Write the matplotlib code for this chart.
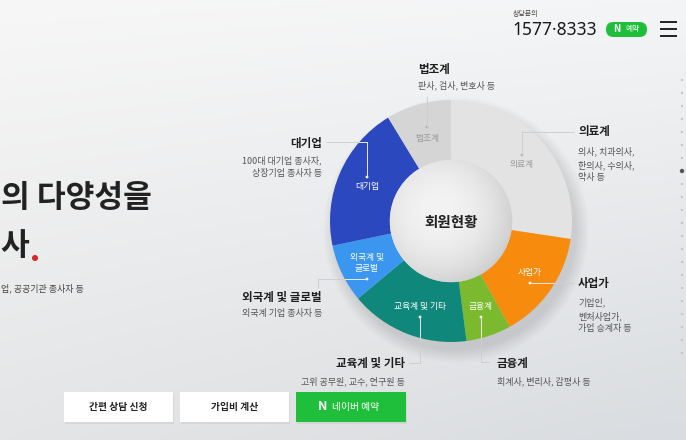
import numpy as np
import matplotlib
matplotlib.use('Agg')
import matplotlib.pyplot as plt
from matplotlib.patches import Circle, FancyBboxPatch
from matplotlib.colors import to_rgb

plt.rcParams['font.family'] = ['Noto Sans CJK KR', 'DejaVu Sans']

# ---------------- data ----------------
categories = ['의료계', '사업가', '금융계', '교육계 및 기타', '외국계 및 글로벌', '대기업', '법조계']
shares = [27.4, 14.6, 6.0, 16.0, 7.8, 19.6, 8.7]
inner_labels = ['의료계', '사업가', '금융계', '교육계 및 기타', '외국계 및\n글로벌', '대기업', '법조계']
descriptions = ['의사, 치과의사,\n한의사, 수의사,\n약사 등',
                '기업인,\n벤처사업가,\n가업 승계자 등',
                '회계사, 변리사, 감평사 등',
                '고위 공무원, 교수, 연구원 등',
                '외국계 기업 종사자 등',
                '100대 대기업 종사자,\n상장기업 종사자 등',
                '판사, 검사, 변호사 등']
center_title = '회원현황'
headline_1 = '의 다양성을'
headline_2 = '사'
headline_sub = '업, 공공기관 종사자 등'
phone_caption = '상담문의'
phone_number = '1577·8333'
button_labels = ['간편 상담 신청', '가입비 계산', '네이버 예약']
n_pages = 22
active_page = 7

# ---------------- styles ----------------
colors = ['#e3e3e3', '#f68b0d', '#7bba2f', '#0f877a', '#3a96ef', '#2b48bf', '#d5d5d5']
inner_text_colors = ['#9a9a9a', 'white', 'white', 'white', 'white', 'white', '#9a9a9a']
GREEN = '#1fbf3c'

W, H = 686, 440
fig = plt.figure(figsize=(6.86, 4.40), dpi=100)

# background gradient
bg = fig.add_axes([0, 0, 1, 1])
xs = np.linspace(0, 1, 200)
ys = np.linspace(0, 1, 130)
X, Y = np.meshgrid(xs, ys)
tl, tr, bl, br = [np.array(to_rgb(c)) for c in ('#f7f7f7', '#f4f5f6', '#e4e5e6', '#d9dce0')]
img = (tl * ((1 - X) * (1 - Y))[..., None] + tr * (X * (1 - Y))[..., None]
       + bl * ((1 - X) * Y)[..., None] + br * (X * Y)[..., None])
bg.imshow(img, extent=[0, W, H, 0], aspect='auto', interpolation='bicubic')
bg.set_xlim(0, W)
bg.set_ylim(H, 0)
bg.axis('off')

cx, cy, R = 451, 221, 121
# soft shadow under donut
for k in range(14):
    bg.add_patch(Circle((cx + 5, cy + 9), R + 12 - k, color='black', alpha=0.007, lw=0))

# donut
pax = fig.add_axes([(cx - R) / W, (H - cy - R) / H, 2 * R / W, 2 * R / H])
wedges, _ = pax.pie(shares, colors=colors, startangle=90, counterclock=False, radius=1,
                    wedgeprops=dict(width=0.495, linewidth=0))
n = 220
g = np.linspace(-0.52, 0.52, n)
GX, GY = np.meshgrid(g, g[::-1])
d = np.clip(np.sqrt((GX + 0.1) ** 2 + (GY - 0.08) ** 2) / 0.68, 0, 1)
c0 = np.array(to_rgb('#f3f3f3'))
c1 = np.array(to_rgb('#c8c8c8'))
t = d ** 2.2
hole = c0 * (1 - t)[..., None] + c1 * t[..., None]
im = pax.imshow(hole, extent=[-0.52, 0.52, -0.52, 0.52], aspect='auto', interpolation='bicubic', zorder=3)
im.set_clip_path(Circle((0, 0), 0.506, transform=pax.transData))
pax.set_xlim(-1, 1)
pax.set_ylim(-1, 1)
pax.axis('off')

# overlay for text and leaders
ov = fig.add_axes([0, 0, 1, 1])
ov.set_xlim(0, W)
ov.set_ylim(H, 0)
ov.axis('off')

ov.text(cx, cy + 1, center_title, ha='center', va='center', fontsize=10.5, fontweight='bold', color='#222222')

# layout of labels (pixel coordinates)
inner_pos = [(522, 165), (530, 272), (481, 306), (420, 306), (367, 263), (367, 187), (427, 138)]
dot_pos = [(522, 155), (530, 283), (481, 317), (420, 317), (367, 279), (367, 177), (427, 127)]
leaders = [
    [(522, 155), (522, 132), (574, 132)],
    [(530, 283), (574, 283)],
    [(481, 317), (481, 362), (490, 362)],
    [(420, 317), (420, 363), (409, 363)],
    [(367, 279), (318, 279), (318, 288)],
    [(367, 177), (367, 142), (326, 142)],
    [(427, 127), (427, 96)],
]
outer = [  # (x, y_title, ha)
    (578, 132, 'left'),
    (578, 283, 'left'),
    (497, 363, 'left'),
    (405, 363, 'right'),
    (322, 297, 'right'),
    (322, 143, 'right'),
    (418, 69, 'left'),
]
desc_gap = [21, 21, 20, 20, 18, 19, 18]

clip_circle = Circle((cx, cy), R, transform=ov.transData)
for i, pts in enumerate(leaders):
    xs_, ys_ = zip(*pts)
    ov.plot(xs_, ys_, color='#cfcfcf', lw=0.7, solid_capstyle='butt')
    if inner_text_colors[i] == 'white':
        ln, = ov.plot(xs_, ys_, color='white', lw=0.7, alpha=0.55)
        ln.set_clip_path(clip_circle)

for i, lab in enumerate(inner_labels):
    x, y = inner_pos[i]
    ov.text(x, y, lab, ha='center', va='center', fontsize=6.3, color=inner_text_colors[i], linespacing=1.3)
    dx, dy = dot_pos[i]
    ov.add_patch(Circle((dx, dy), 1.4, color=('white' if inner_text_colors[i] == 'white' else '#b0b0b0'), lw=0))

for i, cat in enumerate(categories):
    x, y, ha = outer[i]
    ov.text(x, y, cat, ha=ha, va='center', fontsize=8.3, fontweight='bold', color='#1e1e1e')
    ov.text(x, y + desc_gap[i] - 6, descriptions[i], ha=ha, va='top', fontsize=6.5, color='#555555',
            linespacing=1.45)

# headline on the left
ov.text(1, 198, headline_1, ha='left', va='center', fontsize=22.5, fontweight='bold', color='#222222')
ov.text(0, 246, headline_2, ha='left', va='center', fontsize=22.5, fontweight='bold', color='#222222')
ov.add_patch(Circle((35, 258), 3, color='#d9232e', lw=0))
ov.text(1, 288, headline_sub, ha='left', va='center', fontsize=6.5, color='#444444')

# header
ov.text(513, 14, phone_caption, ha='left', va='center', fontsize=5, color='#444444')
ov.text(512, 30, phone_number, ha='left', va='center', fontsize=12.5, color='#1a1a1a',
        family=['Noto Sans', 'DejaVu Sans'])
ov.add_patch(FancyBboxPatch((606, 22), 41, 15, boxstyle='round,pad=0,rounding_size=7.5', fc=GREEN, ec='none'))
ov.text(617, 29.5, 'N', ha='center', va='center', fontsize=7, fontweight='bold', color='white')
ov.text(633, 29.5, '예약', ha='center', va='center', fontsize=5.5, color='white')
for yy in (22, 29, 36):
    ov.plot([660, 677], [yy, yy], color='#222222', lw=1.4, solid_capstyle='butt')

# pagination dots
for k in range(n_pages):
    y = 80 + 13 * k
    if k == active_page:
        ov.add_patch(Circle((682, y), 2.2, color='#555555', lw=0))
    else:
        ov.add_patch(Circle((682, y), 1.2, color='#c6c6c6', lw=0))

# bottom buttons
btns = [(64, 392, 109, 30), (180, 392, 109, 30), (296, 392, 110, 30)]
for j, (bx, by, bw, bh) in enumerate(btns):
    ov.add_patch(FancyBboxPatch((bx + 1, by + 2), bw, bh, boxstyle='square,pad=0', fc='black', alpha=0.05, ec='none'))
    fc = GREEN if j == 2 else 'white'
    ov.add_patch(FancyBboxPatch((bx, by), bw, bh, boxstyle='square,pad=0', fc=fc, ec='none'))
    if j < 2:
        ov.text(bx + bw / 2, by + bh / 2, button_labels[j], ha='center', va='center', fontsize=7,
                fontweight='bold', color='#222222')
    else:
        ov.text(bx + 27, by + bh / 2, 'N', ha='center', va='center', fontsize=9, fontweight='black', color='white')
        ov.text(bx + 36, by + bh / 2, button_labels[j], ha='left', va='center', fontsize=7, color='white')

fig.savefig('out.png', dpi=100)
